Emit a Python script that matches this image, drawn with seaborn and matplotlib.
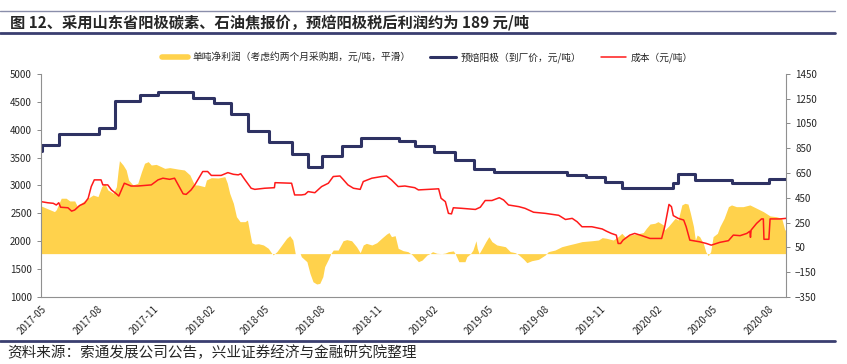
import pandas as pd
import seaborn as sns
import matplotlib.pyplot as plt
import matplotlib.dates as mdates
from matplotlib.lines import Line2D

# days counted from 2017-05-01
price_days = [0, 2, 29, 94, 121, 161, 191, 248, 282, 310, 338, 372, 410, 435, 458, 491,
              523, 584, 611, 641, 676, 707, 739, 859, 890, 920, 949, 1032, 1039, 1068,
              1128, 1188, 1216]
price_vals = [3620, 3720, 3920, 4030, 4520, 4630, 4680, 4570, 4470, 4280, 3980, 3780, 3570,
              3330, 3520, 3700, 3850, 3800, 3700, 3600, 3450, 3300, 3250, 3180, 3150, 3060,
              2950, 3040, 3200, 3100, 3050, 3110, 3110]

cost_days = [0, 11, 20, 25, 29, 32, 44, 50, 55, 63, 71, 77, 82, 87, 98, 101, 109, 115, 123,
             127, 136, 147, 158, 180, 191, 199, 210, 218, 224, 232, 237, 245, 251, 259, 264,
             272, 278, 294, 305, 314, 322, 326, 333, 343, 349, 365, 381, 382, 409, 414, 425,
             431, 436, 447, 458, 469, 477, 488, 493, 501, 510, 521, 526, 540, 556, 564, 572,
             583, 594, 610, 616, 649, 653, 660, 665, 670, 673, 687, 709, 717, 725, 736, 748,
             755, 763, 780, 790, 804, 823, 845, 856, 867, 875, 883, 899, 916, 923, 931, 939,
             942, 946, 950, 961, 969, 978, 994, 1013, 1018, 1025, 1029, 1032, 1040, 1049,
             1053, 1059, 1075, 1086, 1094, 1108, 1122, 1130, 1141, 1152, 1157, 1158, 1159,
             1168, 1176, 1179, 1180, 1188, 1190, 1206, 1216]
cost_vals = [2710, 2690, 2680, 2650, 2690, 2610, 2600, 2540, 2560, 2640, 2680, 2770, 2980,
             3100, 3100, 3010, 3010, 2920, 2850, 2810, 3040, 2990, 2990, 3010, 3100, 3130,
             3110, 3130, 3010, 2850, 2840, 2920, 3010, 3160, 3250, 3250, 3180, 3180, 3230,
             3200, 3190, 3210, 3100, 2950, 2930, 2950, 2960, 3050, 3040, 2830, 2830, 2840,
             2890, 2870, 2980, 3040, 3160, 3170, 3110, 3010, 2950, 2930, 3070, 3130, 3160,
             3170, 3100, 2980, 2990, 2960, 2920, 2940, 2770, 2710, 2500, 2490, 2600, 2590,
             2570, 2610, 2730, 2730, 2780, 2740, 2650, 2620, 2590, 2520, 2500, 2465, 2390,
             2410, 2350, 2260, 2260, 2220, 2180, 2140, 2110, 1960, 1960, 2020, 2110, 2140,
             2110, 2050, 2050, 2260, 2660, 2620, 2460, 2410, 2380, 2260, 2020, 1990, 1960,
             1930, 1980, 2010, 2110, 2100, 2140, 2180, 2070, 2200, 2320, 2400, 2400, 2035,
             2035, 2400, 2400, 2410]

profit_days = [0, 9, 22, 25, 33, 41, 47, 55, 59, 69, 77, 85, 93, 99, 104, 109, 118, 123, 126,
               128, 134, 139, 143, 150, 158, 164, 169, 175, 180, 188, 196, 202, 210, 224, 234,
               243, 248, 251, 256, 267, 270, 278, 289, 300, 304, 308, 314, 319, 325, 333, 337,
               341, 344, 349, 355, 363, 371, 376, 379, 385, 393, 401, 406, 411, 415, 423, 425,
               434, 439, 444, 450, 455, 460, 463, 469, 473, 477, 485, 493, 499, 507, 515, 521,
               526, 531, 540, 548, 556, 564, 568, 572, 578, 583, 591, 599, 606, 611, 616, 622,
               630, 635, 639, 646, 654, 660, 665, 673, 676, 682, 692, 695, 701, 705, 710, 712,
               715, 720, 726, 731, 736, 744, 758, 766, 774, 780, 788, 793, 801, 812, 823, 828,
               839, 850, 861, 872, 883, 899, 910, 916, 923, 934, 942, 948, 953, 961, 972, 983,
               988, 994, 1002, 1007, 1016, 1018, 1024, 1035, 1040, 1046, 1051, 1056, 1060,
               1065, 1068, 1071, 1075, 1081, 1085, 1089, 1093, 1097, 1104, 1108, 1115, 1122,
               1127, 1135, 1146, 1157, 1168, 1179, 1190, 1200, 1209, 1214, 1216]
profit_vals = [385, 366, 339, 355, 447, 447, 425, 425, 385, 420, 447, 473, 460, 540, 568, 514,
               487, 540, 675, 750, 715, 675, 594, 554, 568, 661, 729, 742, 715, 720, 702, 688,
               694, 682, 675, 635, 581, 554, 554, 540, 594, 613, 610, 621, 570, 487, 406, 298,
               258, 258, 271, 164, 88, 77, 80, 70, 43, 7, -10, 16, 70, 124, 145, 110, 0, 0,
               -25, -65, -159, -227, -245, -240, -186, -105, -45, 0, 29, 29, 104, 113, 104, 56,
               8, 70, 83, 70, 88, 124, 158, 170, 137, 145, 43, 24, 16, -10, -38, -65, -52, -11,
               0, 16, 3, 0, 5, 16, 22, 0, -65, -65, -25, 0, 29, 104, 43, 0, 43, 97, 137, 97,
               70, 56, 16, 8, -11, -46, -73, -57, -46, -11, 16, 29, 56, 70, 83, 97, 104, 110,
               129, 124, 110, 137, 164, 137, 150, 158, 170, 204, 239, 245, 258, 231, 191, 220,
               285, 271, 393, 406, 400, 325, 218, 110, 150, 137, 83, 16, -17, 16, 137, 164,
               218, 285, 379, 393, 379, 379, 393, 366, 339, 304, 298, 285, 191, 191]

start = pd.Timestamp('2017-05-01')
price = pd.DataFrame({'date': start + pd.to_timedelta(price_days, unit='D'), 'v': price_vals})
cost = pd.DataFrame({'date': start + pd.to_timedelta(cost_days, unit='D'), 'v': cost_vals})
profit = pd.DataFrame({'date': start + pd.to_timedelta(profit_days, unit='D'), 'v': profit_vals})

label_profit = '单吨净利润（考虑约两个月采购期，元/吨，平滑）'
label_price = '预焙阳极（到厂价，元/吨）'
label_cost = '成本（元/吨）'

sns.set_style('white')
plt.rcParams['font.family'] = ['Noto Sans CJK SC', 'DejaVu Sans']
plt.rcParams['axes.unicode_minus'] = True

yellow = '#FFD24C'
navy = '#2E3263'
red = '#FF1A1A'

fig = plt.figure(figsize=(8.47, 3.64), dpi=100)
ax1 = fig.add_axes([0.0484, 0.184, 0.8796, 0.613])
ax2 = ax1.twinx()
# lines above the area
ax1.set_zorder(ax2.get_zorder() + 1)
ax1.patch.set_visible(False)

# profit area on the right axis
ax2.fill_between(profit['date'], 0, profit['v'], color=yellow, lw=0)
ax2.set_ylim(-350, 1450)
ax2.set_yticks(range(-350, 1451, 200))

sns.lineplot(data=price, x='date', y='v', ax=ax1, color=navy, lw=2.2,
             drawstyle='steps-post')
sns.lineplot(data=cost, x='date', y='v', ax=ax1, color=red, lw=1.1)
ax1.set_ylim(1000, 5000)
ax1.set_yticks(range(1000, 5001, 500))
ax1.set_xlim(start, start + pd.Timedelta(days=1216))
ax1.set_xlabel('')
ax1.set_ylabel('')

ticks = pd.date_range('2017-05-01', '2020-08-01', freq='3MS')
ax1.set_xticks(ticks)
ax1.xaxis.set_major_formatter(mdates.DateFormatter('%Y-%m'))
for lab in ax1.get_xticklabels():
    lab.set_rotation(45)
    lab.set_ha('right')
    lab.set_rotation_mode('anchor')

for ax in (ax1, ax2):
    ax.tick_params(labelsize=7, length=3, width=0.7, color='#888888', direction='out')
    for s in ax.spines.values():
        s.set_color('#909090')
        s.set_linewidth(0.8)
    ax.spines['top'].set_visible(False)
ax1.spines['right'].set_visible(False)
ax2.spines['left'].set_visible(False)
ax2.spines['bottom'].set_visible(False)
ax1.tick_params(axis='x', pad=2)

handles = [Line2D([], [], color=yellow, lw=4), Line2D([], [], color=navy, lw=2.2),
           Line2D([], [], color=red, lw=1.1)]
fig.legend(handles, [label_profit, label_price, label_cost], loc='center',
           bbox_to_anchor=(0.505, 0.843), ncol=3, frameon=False, fontsize=7,
           handlelength=2.6, columnspacing=2.0, handletextpad=0.5)

fig.text(0.012, 0.938, '图 12、采用山东省阳极碳素、石油焦报价，预焙阳极税后利润约为 189 元/吨',
         fontsize=11, fontweight='bold', va='center', ha='left')
fig.text(0.009, 0.030, '资料来源：索通发展公司公告，兴业证券经济与金融研究院整理',
         fontsize=10.5, va='center', ha='left')

fig.add_artist(Line2D([0, 0.986], [0.971, 0.971], color='#8A8EAA', lw=1.0,
                      transform=fig.transFigure))
fig.add_artist(Line2D([0, 0.986], [0.909, 0.909], color='#3A3E70', lw=2.0,
                      transform=fig.transFigure))
fig.add_artist(Line2D([0, 0.986], [0.063, 0.063], color='#3A3E70', lw=2.0,
                      transform=fig.transFigure))

fig.savefig('out.png', dpi=100)
